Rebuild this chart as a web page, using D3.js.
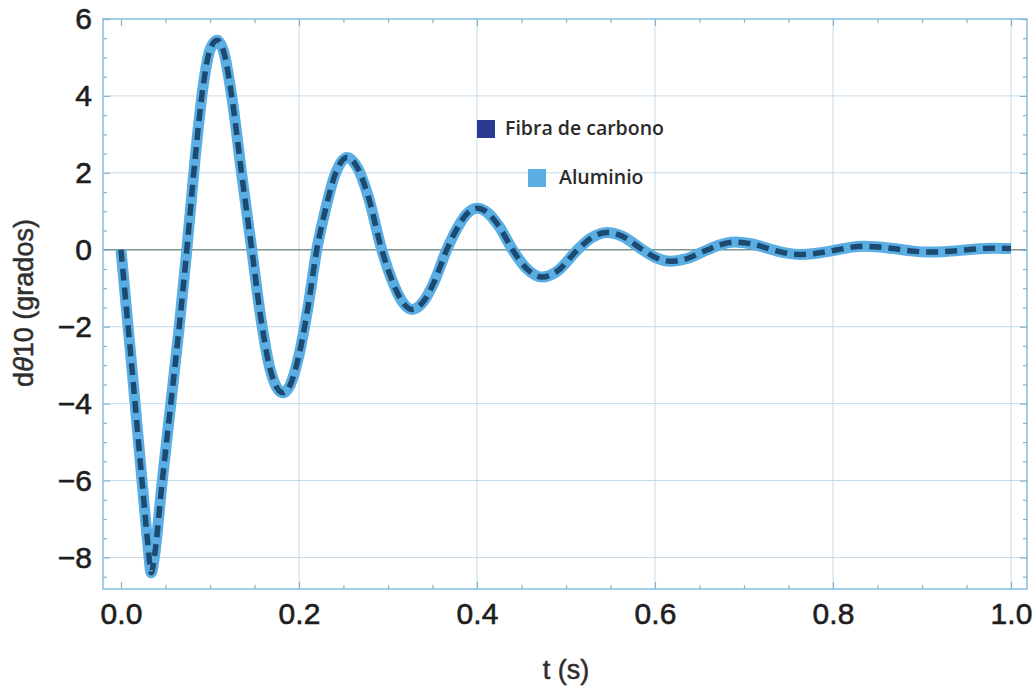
<!DOCTYPE html>
<html>
<head>
<meta charset="utf-8">
<script src="https://cdn.jsdelivr.net/npm/d3@7"></script>
<style>
  html, body { margin: 0; padding: 0; background: #ffffff; }
  svg { display: block; }
</style>
</head>
<body>
<svg id="chart" width="1035" height="689"></svg>
<script>
// Sampled response dθ10 (degrees) over time t (s)
const tiempo = [
  0.000, 0.012, 0.024, 0.030, 0.034, 0.038, 0.046, 0.056, 0.065, 0.074,
  0.083, 0.092, 0.100, 0.108, 0.116, 0.125, 0.136, 0.147, 0.157, 0.167,
  0.175, 0.182, 0.190, 0.200, 0.210, 0.220, 0.230, 0.240, 0.254, 0.266,
  0.278, 0.293, 0.305, 0.315, 0.327, 0.340, 0.352, 0.366, 0.378, 0.388,
  0.400, 0.412, 0.425, 0.440, 0.455, 0.473, 0.490, 0.513, 0.528, 0.546,
  0.563, 0.586, 0.600, 0.617, 0.635, 0.659, 0.673, 0.690, 0.708, 0.732,
  0.745, 0.762, 0.780, 0.805, 0.818, 0.835, 0.852, 0.878, 0.890, 0.908,
  0.925, 0.951, 0.965, 0.980, 1.000
];
const fibraCarbono = [
  0.00, -3.00, -6.10, -7.60, -8.40, -7.90, -6.10, -4.00, -2.10, 0.00,
  2.30, 4.20, 5.20, 5.45, 5.10, 3.90, 1.90, 0.00, -1.75, -3.05,
  -3.58, -3.72, -3.52, -2.74, -1.51, 0.00, 1.07, 1.92, 2.40, 2.12,
  1.37, 0.00, -0.82, -1.31, -1.55, -1.34, -0.83, 0.00, 0.57, 0.92,
  1.08, 0.96, 0.60, 0.00, -0.47, -0.71, -0.56, 0.00, 0.30, 0.45,
  0.355, 0.00, -0.195, -0.30, -0.235, 0.00, 0.13, 0.20, 0.156, 0.00,
  -0.076, -0.12, -0.095, 0.00, 0.057, 0.09, 0.073, 0.00, -0.035, -0.06,
  -0.049, 0.00, 0.028, 0.04, 0.03
];
const aluminio = [
  0.00, -3.00, -6.10, -7.60, -8.40, -7.90, -6.10, -4.00, -2.10, 0.00,
  2.30, 4.20, 5.20, 5.45, 5.10, 3.90, 1.90, 0.00, -1.75, -3.05,
  -3.58, -3.72, -3.52, -2.74, -1.51, 0.00, 1.07, 1.92, 2.40, 2.12,
  1.37, 0.00, -0.82, -1.31, -1.55, -1.34, -0.83, 0.00, 0.57, 0.92,
  1.08, 0.96, 0.60, 0.00, -0.47, -0.71, -0.56, 0.00, 0.30, 0.45,
  0.355, 0.00, -0.195, -0.30, -0.235, 0.00, 0.13, 0.20, 0.156, 0.00,
  -0.076, -0.12, -0.095, 0.00, 0.057, 0.09, 0.073, 0.00, -0.035, -0.06,
  -0.049, 0.00, 0.028, 0.04, 0.03
];

const xTicks = [0.0, 0.2, 0.4, 0.6, 0.8, 1.0];
const yTicks = [-8, -6, -4, -2, 0, 2, 4, 6];
const seriesNames = ["Fibra de carbono", "Aluminio"];

const svg = d3.select("#chart");
const plotLeft = 103, plotRight = 1027, plotTop = 19, plotBottom = 589;

const x = d3.scaleLinear().domain([-0.0202, 1.018]).range([plotLeft, plotRight]);
const y = d3.scaleLinear().domain([-8.82, 6]).range([plotBottom, plotTop]);

const frameColor = "#8cc2e2";
const tickColor = "#86b3cf";
const gridColor = "#c4dbe9";

// Grid lines
const grid = svg.append("g");
grid.selectAll("line.vg").data(xTicks.filter(d => d > 0)).join("line")
  .attr("x1", d => x(d)).attr("x2", d => x(d))
  .attr("y1", plotTop).attr("y2", plotBottom)
  .attr("stroke", gridColor).attr("stroke-width", 1);
grid.selectAll("line.hg").data(yTicks.filter(d => d !== 0 && d < 6)).join("line")
  .attr("x1", plotLeft).attr("x2", plotRight)
  .attr("y1", d => y(d)).attr("y2", d => y(d))
  .attr("stroke", gridColor).attr("stroke-width", 1);

// Zero axis line
svg.append("line")
  .attr("x1", plotLeft).attr("x2", plotRight)
  .attr("y1", y(0)).attr("y2", y(0))
  .attr("stroke", "#7a9592").attr("stroke-width", 1.4);

// Curves
const line = d3.line()
  .x((d, i) => x(tiempo[i]))
  .y(d => y(d))
  .curve(d3.curveMonotoneX);

svg.append("path")
  .datum(aluminio)
  .attr("d", line)
  .attr("fill", "none")
  .attr("stroke", "#5aaee3")
  .attr("stroke-width", 11)
  .attr("stroke-linejoin", "round");

svg.append("path")
  .datum(fibraCarbono)
  .attr("d", line)
  .attr("fill", "none")
  .attr("stroke", "#1c4a70")
  .attr("stroke-width", 5.5)
  .attr("stroke-dasharray", "12,7")
  .attr("stroke-linejoin", "round");

// Frame
svg.append("rect")
  .attr("x", plotLeft).attr("y", plotTop)
  .attr("width", plotRight - plotLeft).attr("height", plotBottom - plotTop)
  .attr("fill", "none").attr("stroke", frameColor).attr("stroke-width", 1.6);

// Axes (ticks pointing inward)
const fontTicks = "'Liberation Sans', Arial, Helvetica, sans-serif";
const xMinor = d3.range(0, 1.0001, 0.05).filter(v => !xTicks.some(t => Math.abs(t - v) < 1e-6));
const yMinor = d3.range(-8.5, 6.0001, 0.5).filter(v => !yTicks.some(t => Math.abs(t - v) < 1e-6));

function styleAxis(g) {
  g.select(".domain").remove();
  g.selectAll(".tick line").attr("stroke", tickColor).attr("stroke-width", 1.2);
  g.selectAll(".tick text")
    .attr("fill", "#1e1e1e")
    .attr("stroke", "#1e1e1e")
    .attr("stroke-width", 0.6)
    .style("font-family", fontTicks)
    .style("font-size", "30px");
}

svg.append("g").attr("transform", `translate(0,${plotBottom})`)
  .call(d3.axisBottom(x).tickValues(xTicks).tickFormat(d3.format(".1f")).tickSize(-7).tickPadding(14))
  .call(styleAxis);
svg.append("g").attr("transform", `translate(0,${plotBottom})`)
  .call(d3.axisBottom(x).tickValues(xMinor).tickFormat("").tickSize(-4))
  .call(styleAxis);
svg.append("g").attr("transform", `translate(0,${plotTop})`)
  .call(d3.axisTop(x).tickValues(xTicks).tickFormat("").tickSize(-7))
  .call(styleAxis);
svg.append("g").attr("transform", `translate(0,${plotTop})`)
  .call(d3.axisTop(x).tickValues(xMinor).tickFormat("").tickSize(-4))
  .call(styleAxis);

svg.append("g").attr("transform", `translate(${plotLeft},0)`)
  .call(d3.axisLeft(y).tickValues(yTicks).tickFormat(d3.format("d")).tickSize(-7).tickPadding(11))
  .call(styleAxis);
svg.append("g").attr("transform", `translate(${plotLeft},0)`)
  .call(d3.axisLeft(y).tickValues(yMinor).tickFormat("").tickSize(-4))
  .call(styleAxis);
svg.append("g").attr("transform", `translate(${plotRight},0)`)
  .call(d3.axisRight(y).tickValues(yTicks).tickFormat("").tickSize(-7))
  .call(styleAxis);
svg.append("g").attr("transform", `translate(${plotRight},0)`)
  .call(d3.axisRight(y).tickValues(yMinor).tickFormat("").tickSize(-4))
  .call(styleAxis);

// Axis titles
svg.append("text")
  .attr("x", 566).attr("y", 679)
  .attr("text-anchor", "middle")
  .attr("fill", "#2e2e2e")
  .attr("stroke", "#2e2e2e").attr("stroke-width", 0.5)
  .style("font-family", fontTicks)
  .style("font-size", "27px")
  .text("t (s)");

const yTitle = svg.append("text")
  .attr("transform", "translate(33,303) rotate(-90)")
  .attr("text-anchor", "middle")
  .attr("fill", "#2e2e2e")
  .attr("stroke", "#2e2e2e").attr("stroke-width", 0.5)
  .style("font-family", fontTicks)
  .style("font-size", "27px");
yTitle.append("tspan").text("d");
yTitle.append("tspan").style("font-style", "italic").text("θ");
yTitle.append("tspan").text("10 (grados)");

// Legend
const legendColors = ["#2b3990", "#5aaee3"];
const legendPos = [{sx: 477, sy: 120, tx: 505, ty: 135}, {sx: 528, sy: 169, tx: 559, ty: 184}];
const legend = svg.append("g");
seriesNames.forEach((name, i) => {
  const p = legendPos[i];
  legend.append("rect")
    .attr("x", p.sx).attr("y", p.sy).attr("width", 18).attr("height", 18)
    .attr("fill", legendColors[i]);
  legend.append("text")
    .attr("x", p.tx).attr("y", p.ty)
    .attr("fill", "#2a2a2a")
    .style("font-family", "'Open Sans', 'Noto Sans', sans-serif")
    .style("font-weight", 600)
    .style("font-size", "19.5px")
    .text(name);
});
</script>
</body>
</html>
